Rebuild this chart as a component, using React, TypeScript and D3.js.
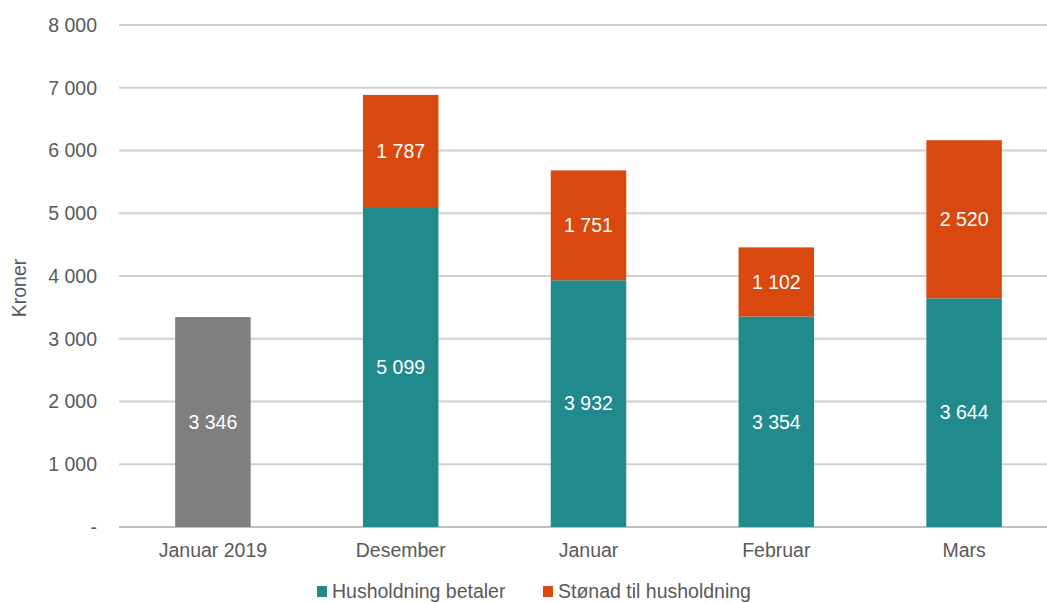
import React from 'react'
import * as d3 from 'd3'

const categories = ['Januar 2019', 'Desember', 'Januar', 'Februar', 'Mars']
const husholdningBetaler = [3346, 5099, 3932, 3354, 3644]
const stonad = [0, 1787, 1751, 1102, 2520]
const yTicks = [0, 1000, 2000, 3000, 4000, 5000, 6000, 7000, 8000]
const legendLabels = ['Husholdning betaler', 'Stønad til husholdning']

const width = 1047
const height = 603
const font = '"Liberation Sans", Arial, sans-serif'
const teal = '#218a8d'
const orange = '#d9480f'
const grey = '#7f7f7f'

const fmt = (v: number) => (v === 0 ? '-' : d3.format(',')(v).replace(/,/g, ' '))

export default function App() {
  const x = d3.scaleBand<string>()
    .domain(categories)
    .range([119, 1058])
    .paddingInner(0.598)
    .paddingOuter(0.299)

  const y = d3.scaleLinear().domain([0, 8000]).range([527, 25])

  return (
    <div style={{ position: 'absolute', left: 0, top: 0 }}>
      <svg width={width} height={height} style={{ display: 'block', fontFamily: font }}>
        <rect width={width} height={height} fill="#fff" />
        {yTicks.map((t) => (
          <g key={t}>
            <line
              x1={119}
              x2={width}
              y1={y(t)}
              y2={y(t)}
              stroke={t === 0 ? '#bfbfbf' : '#d0d0d0'}
              strokeWidth={2}
            />
            <text
              x={97}
              y={y(t)}
              dy="0.35em"
              textAnchor="end"
              fontSize={19.5}
              fill="#595959"
            >
              {fmt(t)}
            </text>
          </g>
        ))}

        <text
          transform="translate(26,288) rotate(-90)"
          textAnchor="middle"
          fontSize={19.5}
          fill="#595959"
        >
          Kroner
        </text>

        {categories.map((c, i) => {
          const bx = x(c) as number
          const bw = x.bandwidth()
          const v1 = husholdningBetaler[i]
          const v2 = stonad[i]
          const firstColor = i === 0 ? grey : teal
          return (
            <g key={c}>
              <rect x={bx} y={y(v1)} width={bw} height={y(0) - y(v1)} fill={firstColor} />
              <text
                x={bx + bw / 2}
                y={(y(0) + y(v1)) / 2}
                dy="0.35em"
                textAnchor="middle"
                fontSize={19.5}
                fill="#fff"
              >
                {fmt(v1)}
              </text>
              {v2 > 0 && (
                <>
                  <rect x={bx} y={y(v1 + v2)} width={bw} height={y(v1) - y(v1 + v2)} fill={orange} />
                  <text
                    x={bx + bw / 2}
                    y={(y(v1) + y(v1 + v2)) / 2}
                    dy="0.35em"
                    textAnchor="middle"
                    fontSize={19.5}
                    fill="#fff"
                  >
                    {fmt(v2)}
                  </text>
                </>
              )}
              <text
                x={bx + bw / 2}
                y={557}
                textAnchor="middle"
                fontSize={19.5}
                fill="#595959"
              >
                {c}
              </text>
            </g>
          )
        })}

        {legendLabels.map((l, i) => {
          const lx = i === 0 ? 317 : 543
          return (
            <g key={l}>
              <rect x={lx} y={586} width={10} height={11} fill={i === 0 ? teal : orange} />
              <text x={lx + 15} y={598} fontSize={19.5} fill="#595959">
                {l}
              </text>
            </g>
          )
        })}
      </svg>
    </div>
  )
}
